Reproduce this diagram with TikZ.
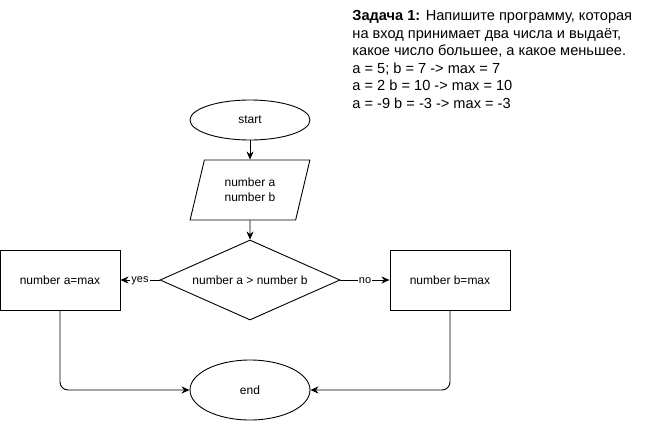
\documentclass[tikz,border=0pt]{standalone}
\usepackage{fontspec}
\setmainfont{Liberation Sans}
\usetikzlibrary{shapes.geometric,arrows.meta}

\begin{document}
\begin{tikzpicture}[x=1pt,y=-1pt,line width=0.9pt,
    tnode/.style={draw,ellipse,minimum width=120pt,minimum height=40pt,inner sep=0pt,font=\fontsize{12}{14}\selectfont},
    bnode/.style={draw,rectangle,minimum width=120pt,minimum height=60pt,inner sep=0pt,font=\fontsize{12}{14}\selectfont},
    inode/.style={draw,trapezium,trapezium left angle=71.57,trapezium right angle=108.43,trapezium stretches=true,minimum width=120pt,minimum height=60pt,inner sep=0pt,align=center,font=\fontsize{12}{15}\selectfont},
    dnode/.style={draw,diamond,shape aspect=2.25,minimum width=180pt,minimum height=80pt,inner sep=0pt,font=\fontsize{12}{14}\selectfont},
    lbl/.style={fill=white,inner sep=1pt,font=\fontsize{11}{13}\selectfont},
    arr/.style={-{Stealth[length=8pt,width=7pt,inset=2.5pt]}}]
    \useasboundingbox (0,0) rectangle (651,421);

    \node[tnode] (start) at (250,120) {start};
    \node[inode] (input) at (250,190) {number a\\number b};
    \node[dnode] (cond) at (250,280) {number a > number b};
    \node[bnode] (amax) at (60,280) {number a=max};
    \node[bnode] (bmax) at (450,280) {number b=max};
    \node[tnode,minimum height=60pt] (end) at (250,390) {end};

    % task text
    \node (task) at (352,10) [anchor=north west,inner sep=0pt,align=left,font=\fontsize{14.6}{17.5}\selectfont]
        {\textbf{Задача 1:} Напишите программу, которая\\
         на вход принимает два числа и выдаёт,\\
         какое число большее, а какое меньшее.\\
         a = 5; b = 7 -> max = 7\\
         a = 2 b = 10 -> max = 10\\
         a = -9 b = -3 -> max = -3};

    \draw[arr] (start) -- (input);
    \draw[arr] (input) -- (cond);
    \draw[arr] (cond) -- node[lbl,yshift=-1pt] {yes} (amax);
    \draw[arr] (cond) -- node[lbl,yshift=-1pt] {no} (bmax);
    \draw[arr,rounded corners=8pt] (amax.south) |- (end);
    \draw[arr,rounded corners=8pt] (bmax.south) |- (end);
\end{tikzpicture}
\end{document}
